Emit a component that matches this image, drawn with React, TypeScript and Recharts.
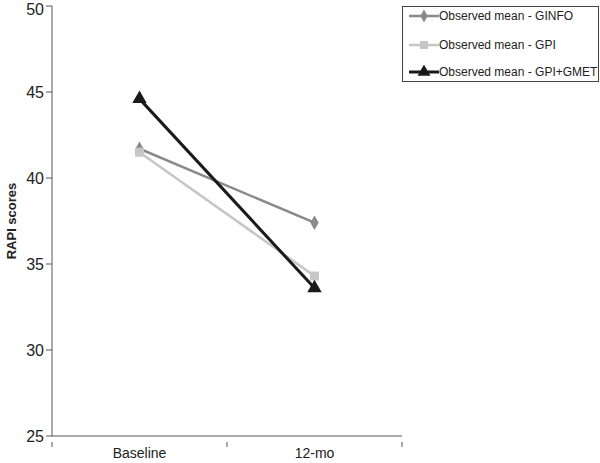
import { LineChart, Line, XAxis, YAxis, Symbols } from 'recharts'

const categories = ['Baseline', '12-mo']
const ginfo = [41.7, 37.4]
const gpi = [41.5, 34.3]
const gpiGmet = [44.6, 33.6]
const yTicks = [25, 30, 35, 40, 45, 50]

const series = [
  { key: 'ginfo', name: 'Observed mean - GINFO', color: '#8a8a8a', shape: 'diamond', size: 60, width: 2.5 },
  { key: 'gpi', name: 'Observed mean - GPI', color: '#c6c6c6', shape: 'square', size: 80, width: 2.5 },
  { key: 'gmet', name: 'Observed mean - GPI+GMET', color: '#1a1a1a', shape: 'triangle', size: 90, width: 3 },
]

// x positions sit in the middle of each category band
const data = categories.map((c, i) => ({
  x: i + 0.5,
  label: c,
  ginfo: ginfo[i],
  gpi: gpi[i],
  gmet: gpiGmet[i],
}))

const xTicks = [0, 0.5, 1, 1.5, 2]
const font = '"Liberation Sans", Arial, sans-serif'
const rowGaps = [2, 15, 13]

function XTick(props: any) {
  const { x, y, payload } = props
  const v = payload.value
  if (Number.isInteger(v)) {
    return <line x1={x} x2={x} y1={y - 2} y2={y + 3} stroke="#555" strokeWidth={1} />
  }
  return (
    <text x={x} y={y + 14} textAnchor="middle" fontSize={14} fill="#222" fontFamily={font}>
      {categories[Math.floor(v)]}
    </text>
  )
}

function makeDot(shape: string, color: string, size: number) {
  return (props: any) => {
    const { cx, cy, index } = props
    if (cx == null || cy == null) return <g key={index} />
    return <Symbols key={index} cx={cx} cy={cy} type={shape as any} size={size} fill={color} />
  }
}

function LegendBox() {
  return (
    <div
      style={{
        position: 'absolute',
        left: 402,
        top: 6,
        border: '1px solid #444',
        width: 197,
        height: 76,
        boxSizing: 'border-box',
        fontFamily: font,
        fontSize: 12,
        color: '#222',
        background: '#fff',
      }}
    >
      {series.map((s, i) => (
        <div
          key={s.key}
          style={{ display: 'flex', alignItems: 'center', height: 14, marginTop: rowGaps[i], whiteSpace: 'nowrap' }}
        >
          <svg width={31} height={14} style={{ marginLeft: 5, flexShrink: 0 }}>
            <line x1={1} x2={31} y1={7} y2={7} stroke={s.color} strokeWidth={s.width} />
            <Symbols cx={16} cy={7} type={s.shape as any} size={s.size * 0.8} fill={s.color} />
          </svg>
          <span>{s.name}</span>
        </div>
      ))}
    </div>
  )
}

export default function App() {
  return (
    <div style={{ position: 'absolute', left: 0, top: 0, width: 600, height: 463, background: '#fff' }}>
      <LineChart width={600} height={463} data={data} margin={{ top: 6, right: 198, bottom: 0, left: 0 }}>
        <XAxis
          dataKey="x"
          type="number"
          domain={[0, 2]}
          ticks={xTicks}
          tick={<XTick />}
          tickLine={false}
          axisLine={{ stroke: '#555' }}
          height={27}
          interval={0}
        />
        <YAxis
          type="number"
          domain={[25, 50]}
          ticks={yTicks}
          width={52}
          tickSize={6}
          tickMargin={2}
          axisLine={{ stroke: '#555' }}
          tickLine={{ stroke: '#555' }}
          tick={{ fontSize: 16, fill: '#222', fontFamily: font }}
          label={{
            value: 'RAPI scores',
            angle: -90,
            position: 'insideLeft',
            offset: 0,
            dx: 11,
            style: { fontSize: 13, fontWeight: 'bold', fill: '#222', fontFamily: font, textAnchor: 'middle' },
          }}
        />
        {series.map((s) => (
          <Line
            key={s.key}
            dataKey={s.key}
            name={s.name}
            stroke={s.color}
            strokeWidth={s.width}
            type="linear"
            dot={makeDot(s.shape, s.color, s.size)}
            activeDot={false}
            isAnimationActive={false}
          />
        ))}
      </LineChart>
      <LegendBox />
    </div>
  )
}
